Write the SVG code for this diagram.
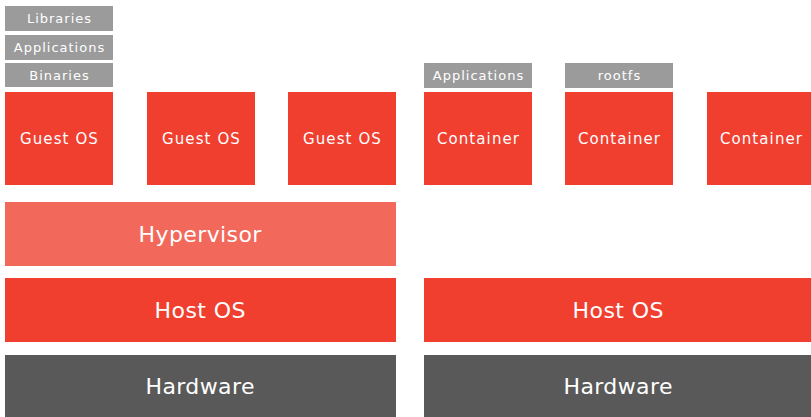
<svg xmlns="http://www.w3.org/2000/svg" width="811" height="417" viewBox="0 0 811 417">
  <style>
    text { font-family: "DejaVu Sans", "Noto Sans", sans-serif; fill: #ffffff; text-anchor: middle; dominant-baseline: central; }
    .red { fill: #f03e2f; }
    .hyp { fill: #f2695c; }
    .gray { fill: #9b9b9b; }
    .dark { fill: #595959; }
    .sm { font-size: 13px; letter-spacing: 1px; }
    .md { font-size: 15px; letter-spacing: 1.1px; }
    .lg { font-size: 22px; letter-spacing: 0.4px; }
  </style>
  <rect width="811" height="417" fill="#ffffff"/>

  <!-- virtual machine stack -->
  <g id="libraries"><rect class="gray" x="5" y="6" width="108" height="25"/><text class="sm" x="59.5" y="18.5">Libraries</text></g>
  <g id="applications-vm"><rect class="gray" x="5" y="35" width="108" height="25"/><text class="sm" x="59.5" y="47">Applications</text></g>
  <g id="binaries"><rect class="gray" x="5" y="63" width="108" height="24"/><text class="sm" x="59.5" y="75">Binaries</text></g>
  <g id="guest-os-1"><rect class="red" x="5" y="92" width="108" height="93"/><text class="md" x="59.5" y="138.5">Guest OS</text></g>
  <g id="guest-os-2"><rect class="red" x="147" y="92" width="108" height="93"/><text class="md" x="201.5" y="138.5">Guest OS</text></g>
  <g id="guest-os-3"><rect class="red" x="288" y="92" width="108" height="93"/><text class="md" x="342.5" y="138.5">Guest OS</text></g>
  <g id="hypervisor"><rect class="hyp" x="5" y="202" width="391" height="64"/><text class="lg" x="200.2" y="234">Hypervisor</text></g>
  <g id="host-os-vm"><rect class="red" x="5" y="278" width="391" height="64"/><text class="lg" x="200.2" y="310">Host OS</text></g>
  <g id="hardware-vm"><rect class="dark" x="5" y="355" width="391" height="62"/><text class="lg" x="200.2" y="386">Hardware</text></g>

  <!-- container stack -->
  <g id="applications-ct"><rect class="gray" x="424" y="63" width="108" height="25"/><text class="sm" x="478.5" y="75">Applications</text></g>
  <g id="rootfs"><rect class="gray" x="565" y="63" width="108" height="25"/><text class="sm" x="619.5" y="75">rootfs</text></g>
  <g id="container-1"><rect class="red" x="424" y="92" width="108" height="93"/><text class="md" x="478.5" y="138.5">Container</text></g>
  <g id="container-2"><rect class="red" x="565" y="92" width="108" height="93"/><text class="md" x="619.5" y="138.5">Container</text></g>
  <g id="container-3"><rect class="red" x="707" y="92" width="108" height="93"/><text class="md" x="761.5" y="138.5">Container</text></g>
  <g id="host-os-ct"><rect class="red" x="424" y="278" width="391" height="64"/><text class="lg" x="618.2" y="310">Host OS</text></g>
  <g id="hardware-ct"><rect class="dark" x="424" y="355" width="391" height="62"/><text class="lg" x="618.2" y="386">Hardware</text></g>

  <g id="connectors"/>
</svg>
